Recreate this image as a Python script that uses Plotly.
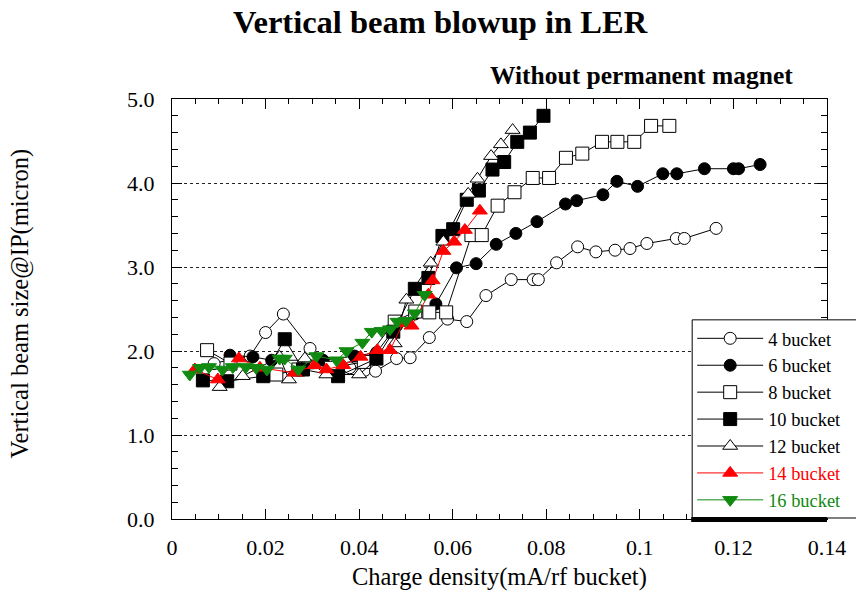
import plotly.graph_objects as go

# ---------------- data ----------------
x4 = [0.009, 0.0125, 0.0167, 0.0200, 0.0238, 0.0295, 0.0340, 0.0380, 0.0412, 0.0435, 0.0480, 0.0509,
      0.0550, 0.0589, 0.0630, 0.0671, 0.0725, 0.0772, 0.0783, 0.0822, 0.0867, 0.0906, 0.0947, 0.0979,
      0.1015, 0.1078, 0.1095, 0.1163]
y4 = [1.85, 1.90, 1.94, 2.22, 2.44, 2.03, 1.85, 1.80, 1.77, 1.76, 1.91, 1.92,
      2.16, 2.38, 2.35, 2.66, 2.85, 2.85, 2.85, 3.05, 3.24, 3.18, 3.20, 3.22,
      3.28, 3.34, 3.34, 3.46]

x6 = [0.0124, 0.0173, 0.0213, 0.0323, 0.0390, 0.0437, 0.0480, 0.0519, 0.0564, 0.0608, 0.0650, 0.0693,
      0.0735, 0.0780, 0.0841, 0.0865, 0.0921, 0.0951, 0.0995, 0.1049, 0.1079, 0.1138, 0.1200, 0.1211, 0.1257]
y6 = [1.95, 1.93, 1.89, 1.89, 1.94, 1.98, 2.30, 2.44, 2.56, 2.99, 3.04, 3.27,
      3.40, 3.54, 3.75, 3.79, 3.86, 4.02, 3.96, 4.11, 4.11, 4.17, 4.17, 4.17, 4.22]

x8 = [0.0075, 0.0125, 0.0223, 0.0270, 0.0340, 0.0410, 0.0476, 0.0520, 0.0550, 0.0586, 0.0640, 0.0662,
      0.0696, 0.0732, 0.0771, 0.0806, 0.0842, 0.0877, 0.0919, 0.0952, 0.0988, 0.1024, 0.1063]
y8 = [2.01, 1.85, 1.72, 1.78, 1.80, 1.87, 2.35, 2.47, 2.46, 2.46, 3.38, 3.38,
      3.73, 3.89, 4.06, 4.06, 4.30, 4.35, 4.49, 4.49, 4.49, 4.68, 4.68]

x10 = [0.0066, 0.0118, 0.0195, 0.0241, 0.0280, 0.0355, 0.0437, 0.0473, 0.0519, 0.0548, 0.0578, 0.0601,
       0.0630, 0.0656, 0.0685, 0.0710, 0.0738, 0.0765, 0.0794]
y10 = [1.65, 1.64, 1.70, 2.14, 1.78, 1.70, 1.91, 2.23, 2.74, 2.87, 3.37, 3.45,
       3.80, 3.91, 4.16, 4.25, 4.49, 4.60, 4.80]

x12 = [0.0102, 0.0151, 0.0230, 0.0250, 0.0284, 0.0330, 0.0400, 0.0476, 0.0501, 0.0553, 0.0580, 0.0633,
       0.0653, 0.0682, 0.0703, 0.0728]
y12 = [1.57, 1.70, 1.93, 1.66, 1.91, 1.72, 1.72, 2.09, 2.61, 3.05, 3.30, 3.87,
       4.05, 4.32, 4.46, 4.63]

x14 = [0.0049, 0.0098, 0.0143, 0.0188, 0.0262, 0.0305, 0.0330, 0.0366, 0.0403, 0.0439, 0.0466, 0.0494,
       0.0512, 0.0548, 0.0557, 0.0580, 0.0603, 0.0626, 0.0658]
y14 = [1.78, 1.66, 1.91, 1.80, 1.74, 1.83, 1.78, 1.83, 1.93, 2.01, 2.01, 2.33,
       2.30, 2.67, 2.84, 3.19, 3.30, 3.44, 3.67]

x16 = [0.0038, 0.0060, 0.0079, 0.0108, 0.0130, 0.0158, 0.0180, 0.0203, 0.0230, 0.0241, 0.0270, 0.0309,
       0.0352, 0.0373, 0.0407, 0.0427, 0.0448, 0.0466, 0.0482, 0.0500, 0.0519, 0.0540]
y16 = [1.72, 1.80, 1.81, 1.78, 1.81, 1.81, 1.80, 1.78, 1.91, 1.91, 1.78, 1.94,
       1.89, 2.00, 2.10, 2.23, 2.24, 2.26, 2.35, 2.36, 2.45, 2.67]

series_names = ["4 bucket", "6 bucket", "8 bucket", "10 bucket", "12 bucket", "14 bucket", "16 bucket"]

x_tick_vals = [0, 0.02, 0.04, 0.06, 0.08, 0.1, 0.12, 0.14]
x_tick_text = ["0", "0.02", "0.04", "0.06", "0.08", "0.1", "0.12", "0.14"]
y_tick_vals = [0, 1, 2, 3, 4, 5]
y_tick_text = ["0.0", "1.0", "2.0", "3.0", "4.0", "5.0"]

# ---------------- figure ----------------
SERIF = "Liberation Serif, Times New Roman, serif"
W, H = 856, 592
L, R, T, B = 172.3, 826.7, 99.3, 519.0
PW, PH = R - L, B - T

def px_x(p):
    return (p - L) / PW

def px_y(p):
    return (B - p) / PH

styles = [
    ("circle", "white", "black", "black", 12),
    ("circle", "black", "black", "black", 12),
    ("square", "white", "black", "black", 13),
    ("square", "black", "black", "black", 13),
    ("triangle-up", "white", "black", "black", 13),
    ("triangle-up", "#ff0000", "#ff0000", "#ff0000", 13),
    ("triangle-down", "#108a10", "#108a10", "#108a10", 13),
]
data = [(x4, y4), (x6, y6), (x8, y8), (x10, y10), (x12, y12), (x14, y14), (x16, y16)]

fig = go.Figure()
for (xs, ys), name, (sym, fill, edge, lc, sz) in zip(data, series_names, styles):
    label = name if lc == "black" else f"<span style='color:{lc}'>{name}</span>"
    fig.add_trace(go.Scatter(
        x=xs, y=ys, mode="lines+markers", name=label,
        line=dict(color=lc, width=1),
        marker=dict(symbol=sym, size=sz, color=fill, line=dict(color=edge, width=1)),
    ))

fig.update_layout(
    width=W, height=H,
    margin=dict(l=L, r=W - R, t=T, b=H - B, autoexpand=False),
    paper_bgcolor="white", plot_bgcolor="white",
    font=dict(family=SERIF, size=22, color="black"),
    showlegend=True,
    legend=dict(
        x=px_x(692), y=px_y(320), xanchor="left", yanchor="top",
        borderwidth=0, bgcolor="rgba(0,0,0,0)",
        font=dict(family=SERIF, size=18.4, color="black"),
        itemwidth=66, tracegroupgap=0,
    ),
    xaxis=dict(
        range=[0, 0.14], tickvals=x_tick_vals, ticktext=x_tick_text,
        ticks="inside", ticklen=10, tickcolor="black", tickwidth=1,
        minor=dict(dtick=0.005, ticks="inside", ticklen=5, tickcolor="black", showgrid=False),
        showline=True, linecolor="black", linewidth=1, mirror="ticks",
        showgrid=False, zeroline=False, ticklabelstandoff=9,
        tickfont=dict(family=SERIF, size=22, color="black"),
    ),
    yaxis=dict(
        range=[0, 5], tickvals=y_tick_vals, ticktext=y_tick_text,
        ticks="inside", ticklen=10, tickcolor="black", tickwidth=1,
        minor=dict(dtick=0.2, ticks="inside", ticklen=6, tickcolor="black", showgrid=False),
        showline=True, linecolor="black", linewidth=1, mirror="ticks",
        showgrid=True, gridcolor="#222222", gridwidth=1, griddash="dot",
        zeroline=False, ticklabelstandoff=12,
        tickfont=dict(family=SERIF, size=22, color="black"),
    ),
    shapes=[
        # legend frame, running off the right edge of the page as in the original
        dict(type="rect", xref="paper", yref="paper",
             x0=px_x(692), x1=px_x(880), y0=px_y(518), y1=px_y(320),
             fillcolor="white", line=dict(color="black", width=1), layer="above"),
        # heavy shadow line under the legend frame
        dict(type="rect", xref="paper", yref="paper",
             x0=px_x(691), x1=1.0, y0=px_y(522), y1=px_y(517),
             fillcolor="black", line=dict(width=0), layer="above"),
    ],
    annotations=[
        dict(text="<b>Vertical beam blowup in LER</b>", xref="paper", yref="paper",
             x=px_x(441), y=px_y(22), xanchor="center", yanchor="middle",
             showarrow=False, font=dict(family=SERIF, size=32.5, color="black")),
        dict(text="<b>Without permanent magnet</b>", xref="paper", yref="paper",
             x=px_x(795), y=px_y(76), xanchor="right", yanchor="middle",
             showarrow=False, font=dict(family=SERIF, size=25.5, color="black")),
        dict(text="Vertical beam size@IP(micron)", xref="paper", yref="paper",
             x=px_x(20), y=px_y(304), xanchor="center", yanchor="middle",
             textangle=-90, showarrow=False, font=dict(family=SERIF, size=24.5, color="black")),
        dict(text="Charge density(mA/rf bucket)", xref="paper", yref="paper",
             x=0.5, y=px_y(577), xanchor="center", yanchor="middle",
             showarrow=False, font=dict(family=SERIF, size=24.5, color="black")),
    ],
)

fig.write_html("out.html")
